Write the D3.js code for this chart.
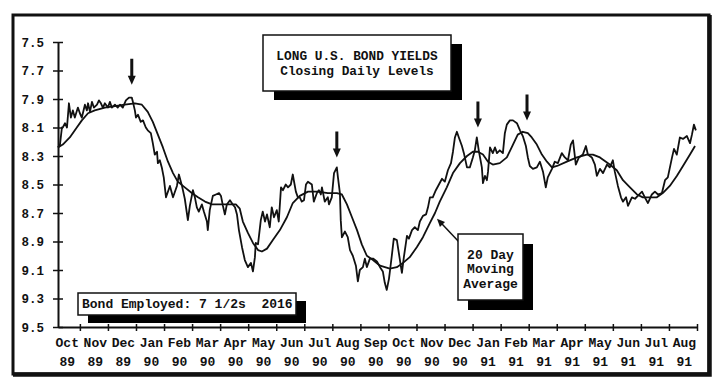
<!DOCTYPE html>
<html>
<head>
<meta charset="utf-8">
<script src="https://cdn.jsdelivr.net/npm/d3@7"></script>
<style>
body { margin: 0; background: #fff; }
svg text { font-family: "Courier New", "Liberation Mono", monospace; font-weight: bold; fill: #111; }
</style>
</head>
<body>
<svg id="chart" width="721" height="383"></svg>
<script>
// months on the axis, one tick per month (0 = Oct 89)
const month_names = ["Oct", "Nov", "Dec", "Jan", "Feb", "Mar", "Apr", "May", "Jun", "Jul", "Aug", "Sep",
                     "Oct", "Nov", "Dec", "Jan", "Feb", "Mar", "Apr", "May", "Jun", "Jul", "Aug"];
const month_years = ["89", "89", "89", "90", "90", "90", "90", "90", "90", "90", "90", "90",
                     "90", "90", "90", "91", "91", "91", "91", "91", "91", "91", "91"];
const yield_ticks = [7.5, 7.7, 7.9, 8.1, 8.3, 8.5, 8.7, 8.9, 9.1, 9.3, 9.5];

// [month, yield]
const daily_yields = [
    [-0.78, 8.24], [-0.71, 8.22], [-0.64, 8.10], [-0.61, 8.10], [-0.53, 8.07], [-0.46, 8.10], [-0.39, 7.93],
    [-0.32, 8.03], [-0.25, 7.98], [-0.18, 8.03], [-0.07, 7.96], [0.00, 8.00], [0.07, 8.03], [0.18, 7.94],
    [0.25, 7.98], [0.29, 7.93], [0.36, 7.99], [0.43, 7.92], [0.50, 7.96], [0.61, 7.94], [0.68, 7.91],
    [0.75, 7.93], [0.82, 7.96], [0.89, 7.93], [1.00, 7.96], [1.07, 7.92], [1.14, 7.96], [1.25, 7.94],
    [1.35, 7.96], [1.43, 7.94], [1.53, 7.96], [1.64, 7.91], [1.75, 7.89], [1.85, 7.89], [1.89, 7.92],
    [1.96, 7.98], [2.00, 8.03], [2.07, 8.01], [2.17, 8.06], [2.25, 8.05], [2.35, 8.10], [2.42, 8.12],
    [2.53, 8.14], [2.60, 8.21], [2.67, 8.29], [2.75, 8.27], [2.78, 8.35], [2.85, 8.33], [2.92, 8.38],
    [2.99, 8.45], [3.07, 8.59], [3.21, 8.51], [3.32, 8.59], [3.46, 8.51], [3.53, 8.43], [3.64, 8.51],
    [3.74, 8.60], [3.85, 8.75], [3.92, 8.65], [4.03, 8.54], [4.10, 8.59], [4.17, 8.66], [4.24, 8.69],
    [4.35, 8.64], [4.42, 8.69], [4.53, 8.76], [4.56, 8.82], [4.63, 8.68], [4.74, 8.58], [4.85, 8.57],
    [4.96, 8.56], [5.03, 8.58], [5.10, 8.65], [5.17, 8.71], [5.24, 8.64], [5.35, 8.61], [5.45, 8.64],
    [5.53, 8.66], [5.60, 8.71], [5.67, 8.82], [5.78, 8.94], [5.88, 9.03], [5.99, 9.08], [6.10, 9.05],
    [6.17, 9.11], [6.24, 9.01], [6.27, 8.91], [6.35, 8.92], [6.45, 8.75], [6.52, 8.69], [6.60, 8.76],
    [6.67, 8.71], [6.77, 8.80], [6.84, 8.66], [6.92, 8.73], [7.02, 8.68], [7.09, 8.76], [7.17, 8.52],
    [7.24, 8.54], [7.34, 8.50], [7.42, 8.52], [7.52, 8.50], [7.59, 8.43], [7.70, 8.55], [7.77, 8.59],
    [7.84, 8.59], [7.91, 8.62], [7.99, 8.61], [8.06, 8.50], [8.13, 8.48], [8.27, 8.50], [8.34, 8.62],
    [8.45, 8.56], [8.52, 8.54], [8.59, 8.57], [8.63, 8.52], [8.73, 8.62], [8.84, 8.59], [8.88, 8.64],
    [8.98, 8.59], [9.06, 8.42], [9.16, 8.38], [9.20, 8.45], [9.27, 8.56], [9.30, 8.75], [9.34, 8.87],
    [9.45, 8.83], [9.55, 8.87], [9.63, 8.96], [9.73, 9.00], [9.84, 9.07], [9.91, 9.18], [9.98, 9.10],
    [10.09, 9.08], [10.16, 9.02], [10.23, 9.08], [10.34, 9.02], [10.45, 9.02], [10.59, 9.04], [10.70, 9.08],
    [10.80, 9.11], [10.87, 9.19], [10.94, 9.24], [11.02, 9.16], [11.12, 9.00], [11.19, 8.88], [11.30, 8.89],
    [11.37, 8.98], [11.48, 9.12], [11.55, 9.01], [11.66, 8.86], [11.73, 8.88], [11.84, 8.82], [11.94, 8.80],
    [12.05, 8.82], [12.12, 8.76], [12.23, 8.72], [12.34, 8.71], [12.41, 8.66], [12.48, 8.59], [12.58, 8.59],
    [12.69, 8.54], [12.80, 8.50], [12.91, 8.46], [13.01, 8.48], [13.12, 8.40], [13.23, 8.35], [13.30, 8.27],
    [13.37, 8.17], [13.44, 8.13], [13.51, 8.17], [13.62, 8.23], [13.69, 8.28], [13.80, 8.38], [13.90, 8.38],
    [14.01, 8.31], [14.08, 8.26], [14.15, 8.17], [14.22, 8.26], [14.33, 8.38], [14.37, 8.49], [14.44, 8.44],
    [14.51, 8.47], [14.55, 8.41], [14.62, 8.24], [14.72, 8.28], [14.80, 8.24], [14.87, 8.28], [14.97, 8.26],
    [15.08, 8.28], [15.15, 8.14], [15.22, 8.08], [15.33, 8.05], [15.44, 8.05], [15.58, 8.07], [15.69, 8.12],
    [15.79, 8.16], [15.90, 8.23], [15.97, 8.31], [16.04, 8.37], [16.15, 8.39], [16.29, 8.38], [16.40, 8.34],
    [16.51, 8.41], [16.61, 8.52], [16.68, 8.45], [16.83, 8.39], [16.93, 8.34], [17.04, 8.35], [17.18, 8.28],
    [17.29, 8.31], [17.40, 8.33], [17.50, 8.22], [17.58, 8.19], [17.68, 8.36], [17.79, 8.31], [17.93, 8.29],
    [18.04, 8.23], [18.11, 8.29], [18.25, 8.31], [18.36, 8.36], [18.43, 8.44], [18.54, 8.39], [18.65, 8.42],
    [18.79, 8.36], [18.89, 8.38], [19.00, 8.33], [19.07, 8.41], [19.18, 8.51], [19.29, 8.59], [19.36, 8.62],
    [19.47, 8.59], [19.54, 8.65], [19.68, 8.59], [19.79, 8.60], [19.89, 8.58], [20.04, 8.55], [20.14, 8.59],
    [20.25, 8.63], [20.39, 8.57], [20.50, 8.55], [20.61, 8.57], [20.75, 8.56], [20.86, 8.47], [20.96, 8.45],
    [21.11, 8.31], [21.18, 8.25], [21.28, 8.29], [21.39, 8.17], [21.50, 8.18], [21.64, 8.16], [21.75, 8.21],
    [21.82, 8.15], [21.89, 8.08], [21.96, 8.12]
];

const moving_average = [
    [-0.78, 8.24], [-0.61, 8.22], [-0.36, 8.17], [-0.11, 8.10], [0.07, 8.05], [0.29, 8.00], [0.53, 7.98],
    [0.89, 7.96], [1.25, 7.95], [1.60, 7.94], [1.96, 7.93], [2.21, 7.94], [2.42, 7.99], [2.60, 8.06],
    [2.78, 8.15], [2.96, 8.24], [3.14, 8.34], [3.32, 8.42], [3.49, 8.48], [3.74, 8.52], [3.99, 8.56],
    [4.21, 8.59], [4.46, 8.62], [4.71, 8.64], [4.99, 8.64], [5.35, 8.64], [5.56, 8.64], [5.70, 8.67],
    [5.81, 8.76], [5.99, 8.84], [6.17, 8.91], [6.35, 8.96], [6.49, 8.97], [6.67, 8.95], [6.88, 8.89],
    [7.13, 8.82], [7.38, 8.73], [7.59, 8.63], [7.84, 8.58], [8.13, 8.55], [8.48, 8.55], [8.84, 8.56],
    [9.16, 8.56], [9.34, 8.57], [9.52, 8.64], [9.70, 8.73], [9.88, 8.82], [10.05, 8.92], [10.23, 9.00],
    [10.45, 9.03], [10.70, 9.07], [11.05, 9.09], [11.30, 9.08], [11.52, 9.05], [11.76, 9.01], [12.01, 8.94],
    [12.23, 8.87], [12.48, 8.77], [12.66, 8.70], [12.83, 8.62], [13.08, 8.52], [13.30, 8.42], [13.55, 8.35],
    [13.80, 8.30], [14.01, 8.27], [14.19, 8.27], [14.37, 8.29], [14.55, 8.34], [14.72, 8.36], [14.97, 8.35],
    [15.22, 8.31], [15.44, 8.22], [15.61, 8.15], [15.79, 8.13], [15.97, 8.14], [16.11, 8.17], [16.29, 8.22],
    [16.47, 8.29], [16.65, 8.34], [16.83, 8.38], [17.01, 8.37], [17.36, 8.34], [17.72, 8.31], [18.07, 8.29],
    [18.29, 8.29], [18.54, 8.31], [18.89, 8.36], [19.14, 8.40], [19.36, 8.47], [19.61, 8.52], [19.86, 8.57],
    [20.07, 8.59], [20.32, 8.59], [20.57, 8.59], [20.78, 8.56], [21.03, 8.51], [21.28, 8.44], [21.50, 8.37],
    [21.75, 8.29], [21.93, 8.23]
];

// peaks marked with arrows, [month, yield] of each arrow tip
const peak_arrows = [[1.85, 7.80], [9.16, 8.31], [14.19, 8.10], [15.94, 8.05]];
const average_pointer = [12.73, 8.74];

const title_lines = ["LONG U.S. BOND YIELDS", "Closing Daily Levels"];
const bond_label = "Bond Employed: 7 1/2s  2016";
const average_lines = ["20 Day", "Moving", "Average"];

function render_yields()
{
    function shadow_box(x, y, w, h, dx, dy)
    {
        svg.append("rect")
            .attr("x", x + dx).attr("y", y + dy)
            .attr("width", w).attr("height", h)
            .attr("fill", "#000");
        svg.append("rect")
            .attr("x", x).attr("y", y)
            .attr("width", w).attr("height", h)
            .attr("fill", "#fff")
            .attr("stroke", "#111")
            .attr("stroke-width", 1.5);
    }

    let svg = d3.select("#chart");

    // outer frame, heavier on the right and bottom
    svg.append("rect")
        .attr("x", 13).attr("y", 15)
        .attr("width", 696).attr("height", 359)
        .attr("fill", "none")
        .attr("stroke", "#111")
        .attr("stroke-width", 3);
    svg.append("path")
        .attr("fill", "none")
        .attr("stroke", "#111")
        .attr("stroke-width", 4.5)
        .attr("d", "M709.5,15 V374.5 H13");

    let x = d3.scaleLinear().domain([-0.78, 22]).range([58, 697]);
    let y = d3.scaleLinear().domain([7.5, 9.5]).range([42, 327]);

    // y axis
    const y_axis = svg.append("g")
        .attr("transform", "translate(58,0)")
        .call(d3.axisLeft(y).tickValues(yield_ticks).tickFormat(d3.format(".1f")).tickSizeOuter(0));
    y_axis.select(".domain").attr("stroke", "#111").attr("stroke-width", 2);
    y_axis.selectAll(".tick line").attr("x1", -5).attr("x2", 5).attr("stroke", "#111").attr("stroke-width", 1.5);
    y_axis.selectAll(".tick text")
        .attr("x", -14)
        .attr("font-size", 12.5)
        .style("font-family", "'Courier New', 'Liberation Mono', monospace")
        .style("font-weight", "bold");

    // x axis
    const x_axis = svg.append("g")
        .attr("transform", "translate(0,327)")
        .call(d3.axisBottom(x).tickValues(d3.range(month_names.length)).tickFormat("").tickSizeOuter(0));
    x_axis.select(".domain").attr("stroke", "#111").attr("stroke-width", 2);
    x_axis.selectAll(".tick line").attr("y1", -3).attr("y2", 4).attr("stroke", "#111").attr("stroke-width", 1.5);

    const labels = svg.append("g")
        .attr("font-size", 13)
        .attr("text-anchor", "middle")
        .selectAll("text")
        .data(month_names)
        .join("text")
            .attr("x", (d, i) => x(i - 0.45));
    labels.append("tspan").attr("y", 347).text(d => d);
    labels.append("tspan")
        .attr("x", (d, i) => x(i - 0.45))
        .attr("y", 366)
        .text((d, i) => month_years[i]);

    // series
    const line = d3.line()
        .x(d => x(d[0]))
        .y(d => y(d[1]));

    svg.append("path")
        .datum(moving_average)
        .attr("fill", "none")
        .attr("stroke", "#111")
        .attr("stroke-width", 1.8)
        .attr("stroke-linejoin", "round")
        .attr("d", line);

    svg.append("path")
        .datum(daily_yields)
        .attr("fill", "none")
        .attr("stroke", "#111")
        .attr("stroke-width", 1.8)
        .attr("stroke-linejoin", "round")
        .attr("d", line);

    // peak arrows
    svg.append("g")
        .selectAll("path")
        .data(peak_arrows)
        .join("path")
            .attr("fill", "#111")
            .attr("d", d =>
            {
                let px = x(d[0]), py = y(d[1]);
                return `M${px - 1.5},${py - 26} h3 v17 h2.5 L${px},${py} L${px - 4},${py - 9} h2.5 Z`;
            });

    // title box
    shadow_box(263, 35, 188, 56, 11, 9);
    svg.append("g")
        .attr("font-size", 12.8)
        .attr("text-anchor", "middle")
        .selectAll("text")
        .data(title_lines)
        .join("text")
            .attr("x", 357)
            .attr("y", (d, i) => 60 + i * 15)
            .text(d => d);

    // bond label
    shadow_box(78, 293, 218, 22, 10, 8);
    svg.append("text")
        .attr("x", 82)
        .attr("y", 307.5)
        .attr("font-size", 13)
        .style("white-space", "pre")
        .text(bond_label);

    // moving average note with pointer
    let tip_x = x(average_pointer[0]), tip_y = y(average_pointer[1]);
    let from_x = 460, from_y = 243;
    let angle = Math.atan2(tip_y - from_y, tip_x - from_x);
    svg.append("line")
        .attr("x1", from_x).attr("y1", from_y)
        .attr("x2", tip_x - 6 * Math.cos(angle)).attr("y2", tip_y - 6 * Math.sin(angle))
        .attr("stroke", "#111")
        .attr("stroke-width", 1.5);
    svg.append("path")
        .attr("fill", "#111")
        .attr("transform", `translate(${tip_x},${tip_y}) rotate(${angle * 180 / Math.PI})`)
        .attr("d", "M0,0 L-8,-3.5 L-8,3.5 Z");

    shadow_box(458, 234, 65, 66, 10, 10);
    svg.append("g")
        .attr("font-size", 13)
        .attr("text-anchor", "middle")
        .selectAll("text")
        .data(average_lines)
        .join("text")
            .attr("x", 490.5)
            .attr("y", (d, i) => 258.5 + i * 14.5)
            .text(d => d);
}

render_yields();
</script>
</body>
</html>
